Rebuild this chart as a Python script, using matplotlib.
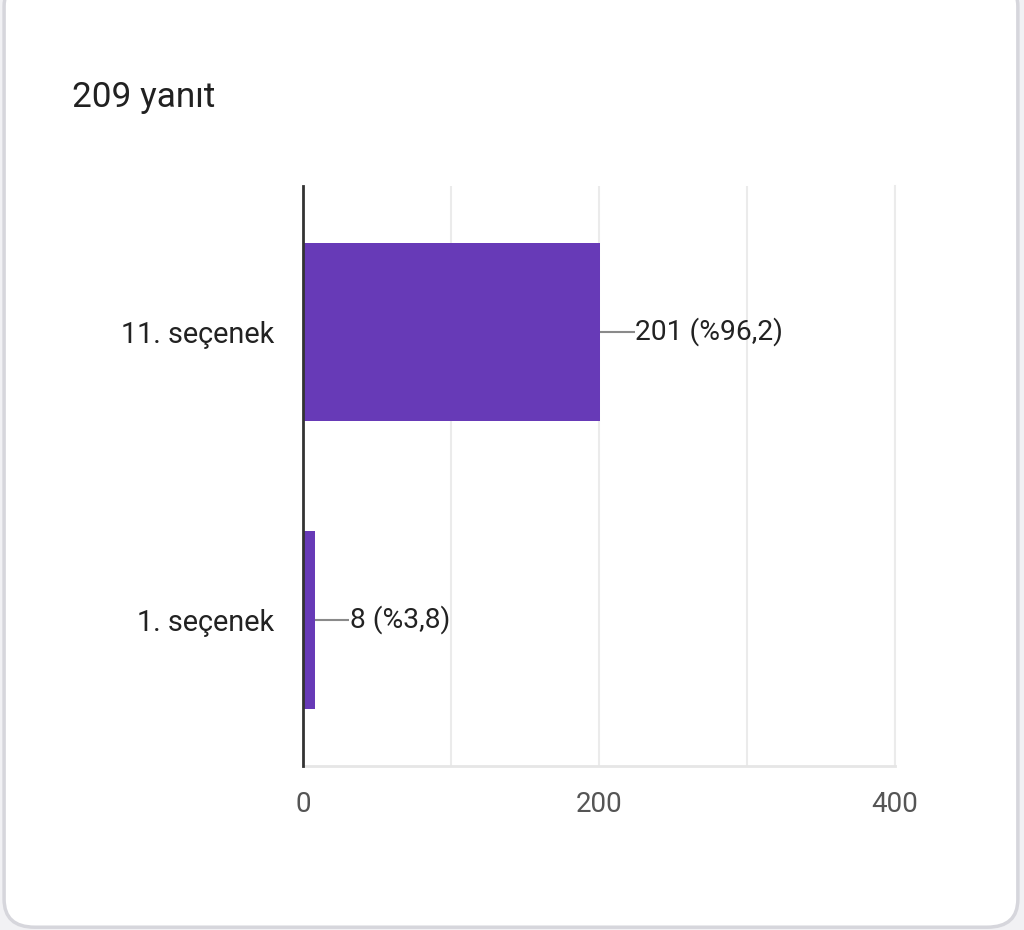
import matplotlib
matplotlib.use("Agg")
import matplotlib.pyplot as plt
from matplotlib.patches import FancyBboxPatch

plt.rcParams['font.family'] = ['Roboto', 'DejaVu Sans']

# data
title = "209 yanıt"
categories = ["1. seçenek", "11. seçenek"]
counts = [8, 201]
percents = ["3,8", "96,2"]
xticks = [0, 200, 400]

bar_color = "#673ab7"

fig = plt.figure(figsize=(10.24, 9.30), dpi=100)
fig.patch.set_facecolor("#f1f1f4")

# card background with rounded corners
card = FancyBboxPatch((0.004, 0.003), 0.990, 1.02,
                      boxstyle="round,pad=0,rounding_size=0.03",
                      transform=fig.transFigure, facecolor="white",
                      edgecolor="#d6d6dc", linewidth=2.5, zorder=-10)
fig.patches.append(card)

fig.text(0.070, 0.895, title, fontsize=25.3, color="#212121", va="center")

ax = fig.add_axes([0.2959, 0.1763, 0.5781, 0.6237])
ax.set_facecolor("none")

ypos = list(range(len(categories)))
ax.barh(ypos, counts, height=0.62, color=bar_color, zorder=2)

ax.set_xlim(0, 400)
ax.set_ylim(-0.507, 1.507)

ax.set_xticks(xticks)
ax.set_xticks([100, 300], minor=True)
ax.set_xticklabels([str(t) for t in xticks], fontsize=20, color="#555555")
ax.set_yticks(ypos)
ax.set_yticklabels(categories, fontsize=20.8, color="#222222")
ax.tick_params(axis="both", which="both", length=0)
ax.tick_params(axis="x", pad=18)
ax.tick_params(axis="y", pad=21)

ax.grid(axis="x", which="both", color="#ebebeb", linewidth=1.5, zorder=0)

ax.spines["top"].set_visible(False)
ax.spines["right"].set_color("#ebebeb")
ax.spines["right"].set_linewidth(1.5)
ax.spines["bottom"].set_color("#e6e6e6")
ax.spines["bottom"].set_linewidth(2)
ax.spines["left"].set_color("#333333")
ax.spines["left"].set_linewidth(2)
ax.spines["left"].set_zorder(3)

# leader lines and value labels
for y, c, p in zip(ypos, counts, percents):
    ax.plot([c, c + 23], [y, y], color="#8a8a8a", linewidth=1.5, zorder=3,
            solid_capstyle="butt")
    ax.text(c + 23.5, y, f"{c} (%{p})", fontsize=20.3, color="#222222",
            va="center", ha="left")

fig.savefig("out.png", dpi=100, facecolor=fig.get_facecolor())
